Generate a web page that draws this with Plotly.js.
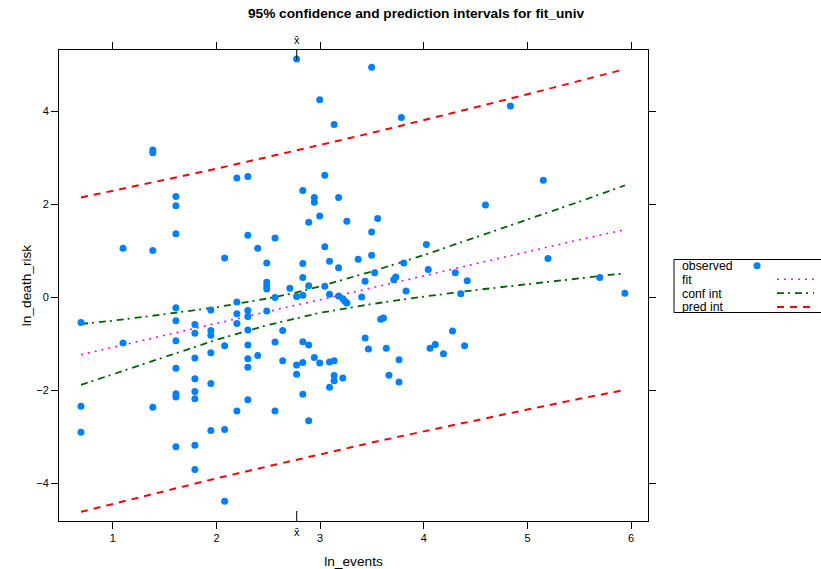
<!DOCTYPE html>
<html><head><meta charset="utf-8">
<script src="https://cdn.plot.ly/plotly-3.0.1.min.js"></script>
<style>body{margin:0;background:#fff}#c{width:821px;height:569px}</style>
</head><body><div id="c"></div>
<script>
// observed data
const lnEvents = [
 0.693,0.693,0.693,
 1.099,1.099,
 1.386,1.386,1.386,1.386,
 1.609,1.609,1.609,1.609,1.609,1.609,1.609,1.609,1.609,1.609,
 1.792,1.792,1.792,1.792,1.792,1.792,1.792,1.792,
 1.946,1.946,1.946,1.946,1.946,1.946,
 2.079,2.079,2.079,2.079,
 2.197,2.197,2.197,2.197,2.197,
 2.303,2.303,2.303,2.303,2.303,2.303,2.303,2.303,2.303,
 2.398,2.398,
 2.485,2.485,2.485,2.485,2.485,
 2.565,2.565,2.565,2.565,
 2.639,2.639,
 2.708,
 2.773,2.773,2.773,2.773,
 2.833,2.833,2.833,2.833,2.833,2.833,2.833,
 2.890,2.890,2.890,2.890,
 2.944,2.944,2.944,
 2.996,2.996,2.996,
 3.045,3.045,3.045,
 3.091,3.091,3.091,3.091,
 3.135,3.135,3.135,3.135,
 3.178,3.178,3.178,
 3.219,3.219,
 3.258,3.239,3.258,
 3.367,3.401,3.434,3.434,3.466,
 3.497,3.497,3.497,3.526,3.555,3.584,3.611,3.638,3.664,
 3.710,3.730,3.761,3.761,3.784,3.807,3.829,
 4.025,4.043,4.060,4.111,4.190,4.277,4.304,4.357,4.394,4.419,
 4.595,4.836,5.153,5.198,5.697,5.940
];
const lnDeathRisk = [
 -0.55,-2.35,-2.91,
 1.05,-0.99,
 3.16,3.10,1.00,-2.37,
 2.16,1.96,1.36,-0.23,-0.51,-0.94,-1.53,-2.08,-2.15,-3.22,
 -0.59,-0.78,-1.31,-1.76,-2.03,-2.19,-3.19,-3.71,
 -0.28,-0.72,-0.82,-1.20,-1.86,-2.87,
 0.84,-1.05,-2.85,-4.39,
 2.56,-0.11,-0.36,-0.57,-2.45,
 2.59,1.33,-0.29,-0.42,-0.71,-1.03,-1.33,-1.51,-2.21,
 1.05,-1.26,
 0.73,0.32,0.24,0.17,-0.30,
 1.27,-0.01,-0.97,-2.45,
 -0.72,-1.37,
 0.19,
 5.12,0.01,-1.46,-1.66,
 2.29,0.72,0.42,0.04,-0.96,-1.41,-2.09,
 1.61,0.24,-1.03,-2.66,
 2.14,2.04,-1.30,
 4.24,1.74,-1.42,
 2.62,1.08,0.23,
 0.77,0.06,-1.40,-1.94,
 3.71,-1.37,-1.69,-1.80,
 2.14,0.63,0.02,
 -0.04,-1.74,
 1.63,-0.09,-0.13,
 0.81,0.00,0.34,-0.88,-1.12,
 4.94,1.40,0.90,0.52,1.69,-0.48,-0.45,-1.10,-1.68,
 0.37,0.43,-1.35,-1.83,3.86,0.73,0.13,
 1.13,0.59,-1.10,-1.02,-1.22,-0.73,0.52,0.07,-1.05,0.35,
 1.98,4.11,2.51,0.83,0.42,0.08
];
// fitted line and interval curves
const curveX   = [0.693, 1.0, 1.5, 2.0, 2.5, 2.774, 3.0, 3.5, 4.0, 4.5, 5.0, 5.5, 5.94];
const fitY     = [-1.24,-1.08,-0.83,-0.57,-0.31,-0.17,-0.06, 0.20, 0.46, 0.71, 0.97, 1.23, 1.45];
const confUp   = [-0.58,-0.51,-0.37,-0.22,-0.03, 0.10, 0.23, 0.55, 0.90, 1.28, 1.66, 2.05, 2.40];
const confLo   = [-1.89,-1.66,-1.28,-0.92,-0.60,-0.45,-0.34,-0.15, 0.01, 0.15, 0.28, 0.40, 0.51];
const predUp   = [ 2.14, 2.28, 2.52, 2.76, 3.01, 3.15, 3.27, 3.53, 3.80, 4.08, 4.36, 4.64, 4.90];
const predLo   = [-4.62,-4.45,-4.17,-3.90,-3.64,-3.50,-3.38,-3.13,-2.89,-2.65,-2.42,-2.19,-2.00];
const xBar = 2.774;
const xTicks = [1,2,3,4,5,6];
const yTicks = [-4,-2,0,2,4];
const legendLabels = ['observed','fit','conf int','pred int'];

const COL_PT = '#0080ff', COL_FIT = '#ff00ff', COL_CI = '#006400', COL_PI = '#ff0000';
const FONT = 'Liberation Sans, Arial, sans-serif';
const L=59, R=173, T=50, B=48, PW=821-L-R, PH=569-T-B;
const px = v => (v-L)/PW, py = v => (569-B-v)/PH;

const traces = [
 {x: curveX, y: predUp, mode:'lines', line:{color:COL_PI, width:2, dash:'7px,6px'}, hoverinfo:'skip'},
 {x: curveX, y: predLo, mode:'lines', line:{color:COL_PI, width:2, dash:'7px,6px'}, hoverinfo:'skip'},
 {x: curveX, y: confUp, mode:'lines', line:{color:COL_CI, width:1.8, dash:'7px,4px,2px,5px'}, hoverinfo:'skip'},
 {x: curveX, y: confLo, mode:'lines', line:{color:COL_CI, width:1.8, dash:'7px,4px,2px,5px'}, hoverinfo:'skip'},
 {x: curveX, y: fitY, mode:'lines', line:{color:COL_FIT, width:1.6, dash:'2px,5px'}, hoverinfo:'skip'},
 {x: lnEvents, y: lnDeathRisk, mode:'markers', marker:{color:COL_PT, size:7, line:{width:0}}}
];

const rows = [265.5, 279.3, 293.1, 306.9];
const shapes = [
 {type:'line', xref:'x', yref:'paper', x0:xBar, x1:xBar, y0:1, y1:1-10/PH, line:{color:'black', width:1}},
 {type:'line', xref:'x', yref:'paper', x0:xBar, x1:xBar, y0:0, y1:10/PH, line:{color:'black', width:1}},
 {type:'rect', xref:'paper', yref:'paper', x0:px(674), x1:px(830), y0:py(259.5), y1:py(312.5), line:{color:'black', width:1}},
 {type:'circle', xref:'paper', yref:'paper', x0:px(753.5), x1:px(760.5), y0:py(262.2), y1:py(269.2), fillcolor:COL_PT, line:{width:0}},
 {type:'line', xref:'paper', yref:'paper', x0:px(777), x1:px(814), y0:py(rows[1]), y1:py(rows[1]), line:{color:COL_FIT, width:1.6, dash:'2px,5px'}},
 {type:'line', xref:'paper', yref:'paper', x0:px(777), x1:px(814), y0:py(rows[2]), y1:py(rows[2]), line:{color:COL_CI, width:1.8, dash:'7px,4px,2px,5px'}},
 {type:'line', xref:'paper', yref:'paper', x0:px(777), x1:px(814), y0:py(rows[3]), y1:py(rows[3]), line:{color:COL_PI, width:2, dash:'7px,6px'}}
];
const annotations = [
 {xref:'x', yref:'paper', x:xBar, y:py(40), text:'x\u0304', showarrow:false, font:{family:FONT, size:11, color:'#000'}, xanchor:'center', yanchor:'middle'},
 {xref:'x', yref:'paper', x:xBar, y:py(532), text:'x\u0304', showarrow:false, font:{family:FONT, size:11, color:'#000'}, xanchor:'center', yanchor:'middle'}
];
legendLabels.forEach((t,i)=>annotations.push({xref:'paper', yref:'paper', x:px(681), y:py(rows[i]), text:t, showarrow:false, xanchor:'left', yanchor:'middle', height:13, borderpad:0, font:{family:FONT, size:12.3, color:'#000'}}));

const axisCommon = {showline:true, linecolor:'black', linewidth:1, mirror:'ticks', ticks:'outside', ticklen:7, tickcolor:'black', tickwidth:1, showgrid:false, zeroline:false, tickfont:{family:FONT, size:11, color:'#000'}};
const layout = {
 width:821, height:569, margin:{l:L, r:R, t:T, b:B}, paper_bgcolor:'#fff', plot_bgcolor:'#fff', showlegend:false,
 title:{text:'<b>95% confidence and prediction intervals for fit_univ</b>', x:416/821, xanchor:'center', y:1-13/569, yanchor:'middle', xref:'container', font:{family:FONT, size:13.7, color:'#000'}},
 xaxis: Object.assign({}, axisCommon, {range:[0.481, 6.163], tickvals:xTicks, ticktext:xTicks.map(String), title:{text:'ln_events', standoff:13, font:{family:FONT, size:13.7, color:'#000'}}}),
 yaxis: Object.assign({}, axisCommon, {range:[-4.817, 5.312], tickvals:yTicks, title:{text:'ln_death_risk', standoff:1, font:{family:FONT, size:13.7, color:'#000'}}}),
 shapes, annotations
};
Plotly.newPlot('c', traces, layout, {staticPlot:true, displayModeBar:false});
</script></body></html>
